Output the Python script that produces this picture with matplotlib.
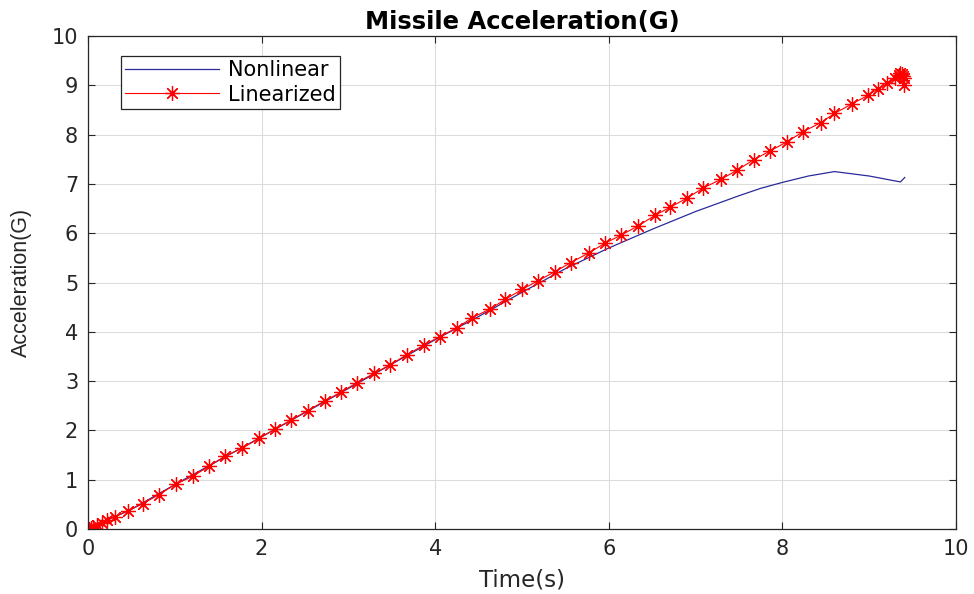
import matplotlib.pyplot as plt
from matplotlib.ticker import MultipleLocator

# linearized model output (solver steps, s / G)
lin_time = [0, 0.01, 0.03, 0.06, 0.10, 0.16, 0.22, 0.31, 0.46, 0.63, 0.82, 1.01,
            1.21, 1.40, 1.58, 1.78, 1.97, 2.15, 2.34, 2.53, 2.73, 2.91, 3.10, 3.30,
            3.48, 3.67, 3.87, 4.05, 4.25, 4.43, 4.63, 4.81, 5.00, 5.19, 5.38, 5.56,
            5.77, 5.96, 6.14, 6.34, 6.53, 6.71, 6.90, 7.09, 7.29, 7.48, 7.67, 7.86,
            8.05, 8.24, 8.44, 8.60, 8.80, 8.99, 9.10, 9.21, 9.30, 9.34, 9.36, 9.38,
            9.39, 9.40, 9.40]
lin_acc = [0, 0.005, 0.02, 0.05, 0.08, 0.13, 0.19, 0.25, 0.37, 0.51, 0.70, 0.91,
           1.07, 1.28, 1.48, 1.64, 1.84, 2.02, 2.21, 2.40, 2.60, 2.77, 2.97, 3.16,
           3.33, 3.53, 3.73, 3.90, 4.08, 4.29, 4.46, 4.66, 4.86, 5.04, 5.22, 5.40,
           5.60, 5.80, 5.96, 6.15, 6.36, 6.53, 6.71, 6.92, 7.09, 7.28, 7.49, 7.67,
           7.85, 8.06, 8.24, 8.43, 8.62, 8.80, 8.93, 9.04, 9.14, 9.20, 9.24, 9.22,
           9.18, 9.15, 9.00]

# nonlinear model output
nl_time = [0, 0.5, 1, 2, 3, 4, 4.5, 5, 5.5, 6, 6.5, 7, 7.5, 7.75, 8, 8.3, 8.6,
           9.0, 9.36, 9.41]
nl_acc = [0, 0.40, 0.90, 1.87, 2.85, 3.84, 4.31, 4.80, 5.28, 5.70, 6.08, 6.44, 6.76,
          6.91, 7.03, 7.16, 7.25, 7.16, 7.04, 7.13]

plt.rcParams['font.family'] = ['DejaVu Sans']
dark = '#262626'

fig = plt.figure(figsize=(9.74, 5.94), dpi=100)
ax = fig.add_axes([0.0903, 0.1094, 0.8912, 0.83])

ax.plot(nl_time, nl_acc, color='#2a2a9c', linewidth=0.9, label='Nonlinear')
ax.plot(lin_time, lin_acc, color='red', linewidth=0.8, marker=(8, 2, 0),
        markersize=10.5, markeredgewidth=0.9, label='Linearized')

ax.set_xlim(0, 10)
ax.set_ylim(0, 10)
ax.xaxis.set_major_locator(MultipleLocator(2))
ax.yaxis.set_major_locator(MultipleLocator(1))
ax.grid(True, color='#dcdcdc', linewidth=0.8)
ax.set_axisbelow(True)

ax.tick_params(direction='in', top=True, right=True, length=5, width=0.8,
               colors=dark, labelsize=15, pad=7)
for s in ax.spines.values():
    s.set_color(dark)
    s.set_linewidth(0.9)

ax.set_title('Missile Acceleration(G)', fontsize=17.5, fontweight='bold', pad=5)
ax.set_xlabel('Time(s)', fontsize=16.5, color=dark, labelpad=7)
ax.set_ylabel('Acceleration(G)', fontsize=15.5, color=dark, family='Liberation Sans',
              labelpad=14)

leg = ax.legend(loc='upper left', bbox_to_anchor=(0.038, 0.959), borderaxespad=0,
                fontsize=15, fancybox=False, framealpha=1, edgecolor=dark,
                handlelength=4.5, borderpad=0.2, labelspacing=0.2,
                handletextpad=0.45)
leg.get_frame().set_linewidth(0.9)

fig.savefig('out.png', dpi=100)
